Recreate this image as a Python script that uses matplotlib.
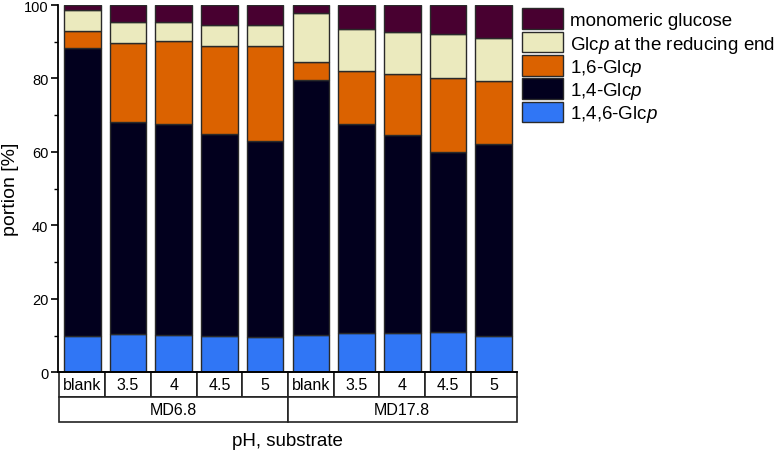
import matplotlib
matplotlib.use("Agg")
import matplotlib.pyplot as plt
from matplotlib.patches import Rectangle
from matplotlib.transforms import blended_transform_factory
import numpy as np

plt.rcParams['font.family'] = ['Liberation Sans', 'DejaVu Sans']
plt.rcParams['mathtext.fontset'] = 'custom'
plt.rcParams['mathtext.it'] = 'Liberation Sans:italic'
plt.rcParams['mathtext.rm'] = 'Liberation Sans'

ph_labels = ["blank", "3.5", "4", "4.5", "5", "blank", "3.5", "4", "4.5", "5"]
substrates = ["MD6.8", "MD17.8"]

glc_146 = [9.8, 10.4, 10.2, 9.8, 9.6, 10.2, 10.8, 10.6, 11.0, 9.9]
glc_14 = [78.6, 57.8, 57.4, 55.2, 53.4, 69.4, 56.8, 54.1, 48.9, 52.2]
glc_16 = [4.6, 21.5, 22.6, 23.8, 25.8, 4.8, 14.4, 16.4, 20.2, 17.2]
glc_red = [5.7, 5.6, 5.1, 5.8, 5.8, 13.5, 11.5, 11.6, 11.9, 11.7]
glc_mono = [1.3, 4.7, 4.7, 5.4, 5.4, 2.1, 6.5, 7.3, 8.0, 9.0]

series = [
    ("1,4,6-Glc$\\it{p}$", glc_146, "#3076f5"),
    ("1,4-Glc$\\it{p}$", glc_14, "#02001e"),
    ("1,6-Glc$\\it{p}$", glc_16, "#db6200"),
    ("Glc$\\it{p}$ at the reducing end", glc_red, "#ebeabe"),
    ("monomeric glucose", glc_mono, "#480030"),
]

W, H = 780, 452
fig = plt.figure(figsize=(W / 100, H / 100), dpi=100)
ax = fig.add_axes([58/W, 1-373.3/H, (517-58)/W, (373.3-6)/H])

x = np.arange(len(ph_labels))
bottom = np.zeros(len(x))
for name, vals, col in series:
    ax.bar(x, vals, width=0.8, bottom=bottom, color=col, edgecolor="#2a2a2a",
           linewidth=1.0, label=name)
    bottom += np.array(vals)

ax.set_xlim(-0.53, 9.51)
ax.set_ylim(0, 100)
ax.set_yticks([0, 20, 40, 60, 80, 100])
ax.set_yticks([10, 30, 50, 70, 90], minor=True)
ax.tick_params(axis='y', which='major', length=5, width=1.2, labelsize=10.5,
               direction='out', pad=2)
ax.tick_params(axis='y', which='minor', length=3, width=1.0, direction='out')
ax.set_xticks([])
for s in ["top", "right"]:
    ax.spines[s].set_visible(False)
ax.spines["left"].set_linewidth(1.3)
ax.spines["bottom"].set_linewidth(1.3)
ax.set_ylabel("portion [%]", fontsize=14)
ax.yaxis.set_label_coords((19 - 58) / 459, 0.5)

# category table below the axes
trans = blended_transform_factory(ax.transData, ax.transAxes)
h = 25.0 / 367.3
for i, lab in enumerate(ph_labels):
    r = Rectangle((i - 0.5, -h), 1.0, h, transform=trans, clip_on=False,
                  facecolor="white", edgecolor="#222222", linewidth=1.2)
    ax.add_patch(r)
    ax.text(i, -h / 2, lab, transform=trans, ha="center", va="center", fontsize=11.5)
for j, sub in enumerate(substrates):
    r = Rectangle((j * 5 - 0.5, -2 * h), 5.0, h, transform=trans, clip_on=False,
                  facecolor="white", edgecolor="#222222", linewidth=1.2)
    ax.add_patch(r)
    ax.text(j * 5 + 2, -1.5 * h, sub, transform=trans, ha="center", va="center", fontsize=11.5)

fig.text((58 + 517) / 2 / W, 1 - 441.7 / H, "pH, substrate", ha="center", va="center", fontsize=13.5)

# legend (manual, top entry = last stacked series)
for k, (name, vals, col) in enumerate(series[::-1]):
    yc = 19.7 + 23.3 * k
    fig.patches.append(Rectangle((522 / W, 1 - (yc + 10.3) / H), 41 / W, 20.6 / H,
                                 transform=fig.transFigure, facecolor=col,
                                 edgecolor="#2a2a2a", linewidth=1.0))
    fig.text(570 / W, 1 - (yc + 6.6) / H, name, ha="left", va="baseline", fontsize=13.5)

fig.savefig("out.png", dpi=100)
